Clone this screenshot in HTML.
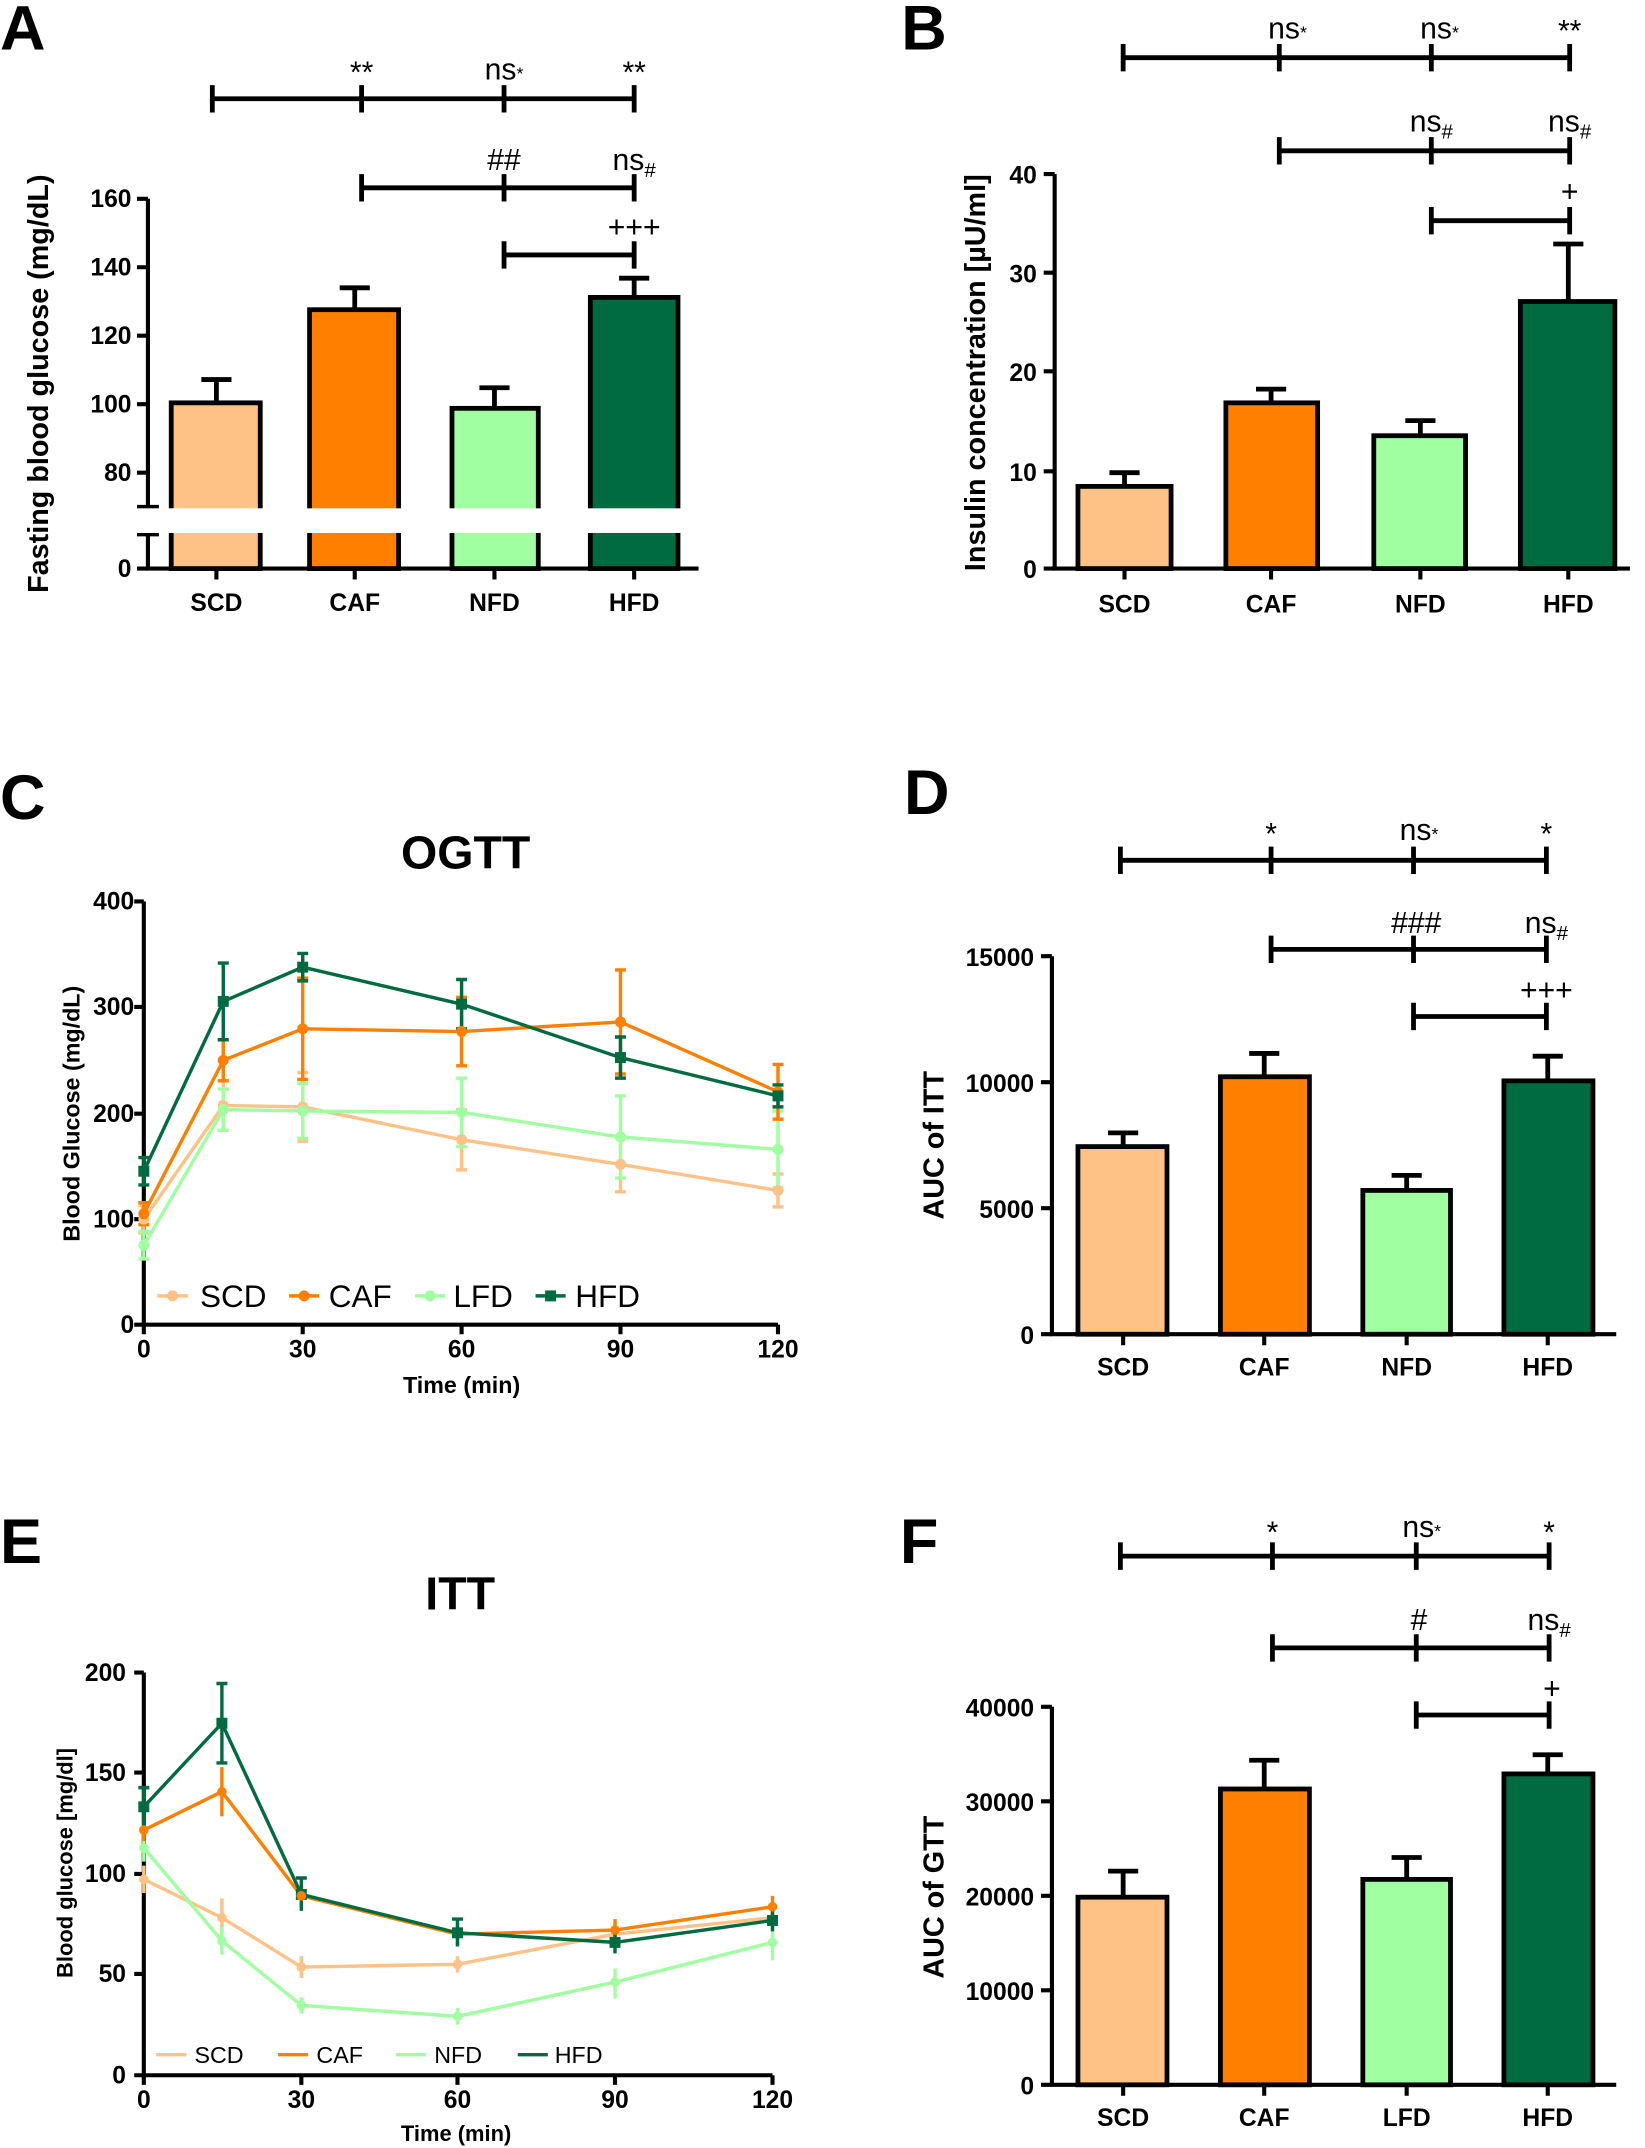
<!DOCTYPE html>
<html><head><meta charset="utf-8"><style>
html,body{margin:0;padding:0;background:#fff}
svg{display:block}
text{font-family:"Liberation Sans",sans-serif}
.t{font-size:18px;font-weight:bold}
.L{font-size:46px;font-weight:bold}
.s{font-size:22px}
.yl{font-size:21px;font-weight:bold}
.ax{stroke:#000;stroke-width:3;fill:none}
.bar{stroke:#000;stroke-width:3.5}
.cmp{stroke:#000;stroke-width:3.5;fill:none}
</style></head><body>
<svg width="1645" height="2148" viewBox="0 0 1201 1568" xmlns="http://www.w3.org/2000/svg">
<!-- Panel letters -->
<text class="L" x="0" y="36">A</text>
<text class="L" x="658" y="36">B</text>
<text class="L" x="0" y="598">C</text>
<text class="L" x="660" y="594">D</text>
<text class="L" x="0" y="1141">E</text>
<text class="L" x="657" y="1141">F</text>

<!-- ===== Panel A ===== -->
<g>
<path class="ax" d="M108 145V370M108 390V415H510"/>
<path class="ax" d="M100 145H108M100 195H108M100 245H108M100 295H108M100 345H108M100 415H108M100 370H116M100 390H116"/>
<g class="t" text-anchor="end"><text x="96" y="151">160</text><text x="96" y="201">140</text><text x="96" y="251">120</text><text x="96" y="301">100</text><text x="96" y="351">80</text><text x="96" y="421">0</text></g>
<path class="ax" d="M158 415v8M259 415v8M361 415v8M463 415v8"/>
<rect class="bar" x="125" y="294" width="65" height="121" fill="#FFC286"/>
<rect class="bar" x="226" y="226" width="65" height="189" fill="#FF8000"/>
<rect class="bar" x="330" y="298" width="63" height="117" fill="#A0FFA0"/>
<rect class="bar" x="431" y="217" width="64" height="198" fill="#006B40"/>
<rect x="100" y="371" width="420" height="18" fill="#fff"/>
<path class="cmp" d="M158 294V277M147 277H169M259 226V210M248 210H270M361 298V283M350 283H372M463 217V203M452 203H474"/>
<g class="t" text-anchor="middle"><text x="158" y="446">SCD</text><text x="259" y="446">CAF</text><text x="361" y="446">NFD</text><text x="463" y="446">HFD</text></g>
<text class="yl" transform="translate(35,280) rotate(-90)" text-anchor="middle">Fasting blood glucose (mg/dL)</text>
<path class="cmp" d="M155 72H463M155 62V82M264 62V82M368 62V82M463 62V82"/>
<path class="cmp" d="M264 137H463M264 127V147M368 127V147M463 127V147"/>
<path class="cmp" d="M368 186H463M368 176V196M463 176V196"/>
<g class="s" text-anchor="middle"><text x="264" y="60">**</text><text x="368" y="58">ns<tspan font-size="13">*</tspan></text><text x="463" y="60">**</text>
<text x="368" y="124">##</text><text x="463" y="124">ns<tspan font-size="15" dy="5">#</tspan></text><text x="463" y="173">+++</text></g>
</g>

<!-- ===== Panel B ===== -->
<g>
<path class="ax" d="M770 127V415H1190"/>
<path class="ax" d="M762 127H770M762 199H770M762 271H770M762 344H770M762 415H770"/>
<g class="t" text-anchor="end"><text x="757" y="134">40</text><text x="757" y="206">30</text><text x="757" y="278">20</text><text x="757" y="351">10</text><text x="757" y="422">0</text></g>
<path class="ax" d="M821 415v8M928 415v8M1037 415v8M1145 415v8"/>
<rect class="bar" x="787" y="355" width="68" height="60" fill="#FFC286"/>
<rect class="bar" x="895" y="294" width="67" height="121" fill="#FF8000"/>
<rect class="bar" x="1003" y="318" width="67" height="97" fill="#A0FFA0"/>
<rect class="bar" x="1110" y="220" width="69" height="195" fill="#006B40"/>
<path class="cmp" d="M821 355V345M810 345H832M928 294V284M917 284H939M1037 318V307M1026 307H1048M1145 220V178M1134 178H1156"/>
<g class="t" text-anchor="middle"><text x="821" y="447">SCD</text><text x="928" y="447">CAF</text><text x="1037" y="447">NFD</text><text x="1145" y="447">HFD</text></g>
<text class="yl" transform="translate(719,272) rotate(-90)" text-anchor="middle">Insulin concentration [µU/ml]</text>
<path class="cmp" d="M820 42H1146M820 32V52M934 32V52M1045 32V52M1146 32V52"/>
<path class="cmp" d="M934 110H1146M934 100V120M1045 100V120M1146 100V120"/>
<path class="cmp" d="M1045 161H1146M1045 151V171M1146 151V171"/>
<g class="s" text-anchor="middle"><text x="940" y="28">ns<tspan font-size="13">*</tspan></text><text x="1051" y="28">ns<tspan font-size="13">*</tspan></text><text x="1146" y="30">**</text>
<text x="1045" y="96">ns<tspan font-size="15" dy="5">#</tspan></text><text x="1146" y="96">ns<tspan font-size="15" dy="5">#</tspan></text><text x="1146" y="147">+</text></g>
</g>

<!-- ===== Panel C (OGTT) ===== -->
<g>
<text x="340" y="634" text-anchor="middle" font-size="34" font-weight="bold">OGTT</text>
<path class="ax" d="M105 658V967H568" stroke-width="2.5"/>
<path class="ax" stroke-width="2.5" d="M98 658H105M98 735H105M98 813H105M98 890H105M98 967H105M105 967v7M221 967v7M337 967v7M453 967v7M568 967v7"/>
<g class="t" font-size="16" text-anchor="end"><text x="98" y="664">400</text><text x="98" y="741">300</text><text x="98" y="819">200</text><text x="98" y="896">100</text><text x="98" y="973">0</text></g>
<g class="t" font-size="16" text-anchor="middle"><text x="105" y="991">0</text><text x="221" y="991">30</text><text x="337" y="991">60</text><text x="453" y="991">90</text><text x="568" y="991">120</text></g>
<text x="337" y="1017" text-anchor="middle" font-size="17" font-weight="bold">Time (min)</text>
<text transform="translate(58,813) rotate(-90)" text-anchor="middle" font-size="17" font-weight="bold">Blood Glucose (mg/dL)</text>
<!-- SCD -->
<g stroke="#FFC286" stroke-width="2.5" fill="none"><polyline points="105,890 163,807 221,808 337,832 453,850 568,869"/>
<path d="M105 880V900M163 789V825M221 783V833M337 810V854M453 830V870M568 857V881M101 880h8M101 900h8M159 789h8M159 825h8M217 783h8M217 833h8M333 810h8M333 854h8M449 830h8M449 870h8M564 857h8M564 881h8"/></g>
<!-- LFD -->
<g stroke="#A0FFA0" stroke-width="2.5" fill="none"><polyline points="105,909 163,810 221,811 337,812 453,830 568,839"/>
<path d="M105 899V919M163 795V825M221 791V831M337 787V837M453 800V860M568 811V867M101 899h8M101 919h8M159 795h8M159 825h8M217 791h8M217 831h8M333 787h8M333 837h8M449 800h8M449 860h8M564 811h8M564 867h8"/></g>
<!-- CAF -->
<g stroke="#FF8000" stroke-width="2.5" fill="none"><polyline points="105,886 163,774 221,751 337,753 453,746 568,797"/>
<path d="M105 878V894M163 759V789M221 714V788M337 728V778M453 708V784M568 777V817M101 878h8M101 894h8M159 759h8M159 789h8M217 714h8M217 788h8M333 728h8M333 778h8M449 708h8M449 784h8M564 777h8M564 817h8"/></g>
<!-- HFD -->
<g stroke="#006B40" stroke-width="2.5" fill="none"><polyline points="105,855 163,731 221,706 337,733 453,772 568,800"/>
<path d="M105 845V865M163 703V759M221 696V716M337 715V751M453 757V787M568 792V808M101 845h8M101 865h8M159 703h8M159 759h8M217 696h8M217 716h8M333 715h8M333 751h8M449 757h8M449 787h8M564 792h8M564 808h8"/></g>
<g fill="#FFC286"><circle cx="105" cy="890" r="4"/><circle cx="163" cy="807" r="4"/><circle cx="221" cy="808" r="4"/><circle cx="337" cy="832" r="4"/><circle cx="453" cy="850" r="4"/><circle cx="568" cy="869" r="4"/></g>
<g fill="#A0FFA0"><circle cx="105" cy="909" r="4"/><circle cx="163" cy="810" r="4"/><circle cx="221" cy="811" r="4"/><circle cx="337" cy="812" r="4"/><circle cx="453" cy="830" r="4"/><circle cx="568" cy="839" r="4"/></g>
<g fill="#FF8000"><circle cx="105" cy="886" r="4"/><circle cx="163" cy="774" r="4"/><circle cx="221" cy="751" r="4"/><circle cx="337" cy="753" r="4"/><circle cx="453" cy="746" r="4"/><circle cx="568" cy="797" r="4"/></g>
<g fill="#006B40"><rect x="101" y="851" width="8" height="8"/><rect x="159" y="727" width="8" height="8"/><rect x="217" y="702" width="8" height="8"/><rect x="333" y="729" width="8" height="8"/><rect x="449" y="768" width="8" height="8"/><rect x="564" y="796" width="8" height="8"/></g>
<!-- legend -->
<g stroke-width="2.5"><path d="M115 946h22" stroke="#FFC286"/><path d="M211 946h22" stroke="#FF8000"/><path d="M303 946h22" stroke="#A0FFA0"/><path d="M391 946h22" stroke="#006B40"/></g>
<circle cx="126" cy="946" r="4" fill="#FFC286"/><circle cx="222" cy="946" r="4" fill="#FF8000"/><circle cx="314" cy="946" r="4" fill="#A0FFA0"/><rect x="398" y="942" width="8" height="8" fill="#006B40"/>
<g font-size="23"><text x="146" y="954">SCD</text><text x="240" y="954">CAF</text><text x="331" y="954">LFD</text><text x="420" y="954">HFD</text></g>
</g>

<!-- ===== Panel D ===== -->
<g>
<path class="ax" d="M768 698V974H1180"/>
<path class="ax" d="M760 698H768M760 790H768M760 882H768M760 974H768"/>
<g class="t" text-anchor="end"><text x="755" y="705">15000</text><text x="755" y="797">10000</text><text x="755" y="889">5000</text><text x="755" y="981">0</text></g>
<path class="ax" d="M820 974v8M923 974v8M1027 974v8M1130 974v8"/>
<rect class="bar" x="787" y="837" width="65" height="137" fill="#FFC286"/>
<rect class="bar" x="891" y="786" width="65" height="188" fill="#FF8000"/>
<rect class="bar" x="995" y="869" width="64" height="105" fill="#A0FFA0"/>
<rect class="bar" x="1098" y="789" width="65" height="185" fill="#006B40"/>
<path class="cmp" d="M820 837V827M809 827H831M923 786V769M912 769H934M1027 869V858M1016 858H1038M1130 789V771M1119 771H1141"/>
<g class="t" text-anchor="middle"><text x="820" y="1004">SCD</text><text x="923" y="1004">CAF</text><text x="1027" y="1004">NFD</text><text x="1130" y="1004">HFD</text></g>
<text class="yl" transform="translate(689,836) rotate(-90)" text-anchor="middle">AUC of ITT</text>
<path class="cmp" d="M818 628H1129M818 618V638M928 618V638M1032 618V638M1129 618V638"/>
<path class="cmp" d="M928 693H1129M928 683V703M1032 683V703M1129 683V703"/>
<path class="cmp" d="M1032 742H1129M1032 732V752M1129 732V752"/>
<g class="s" text-anchor="middle"><text x="928" y="616">*</text><text x="1036" y="613">ns<tspan font-size="13">*</tspan></text><text x="1129" y="616">*</text>
<text x="1034" y="681">###</text><text x="1129" y="681">ns<tspan font-size="15" dy="5">#</tspan></text><text x="1129" y="730">+++</text></g>
</g>

<!-- ===== Panel E (ITT) ===== -->
<g>
<text x="336" y="1175" text-anchor="middle" font-size="34" font-weight="bold">ITT</text>
<path class="ax" stroke-width="2.5" d="M105 1221V1515H564"/>
<path class="ax" stroke-width="2.5" d="M98 1221H105M98 1294H105M98 1368H105M98 1441H105M98 1515H105M105 1515v7M220 1515v7M334 1515v7M449 1515v7M564 1515v7"/>
<g class="t" font-size="16" text-anchor="end"><text x="92" y="1227">200</text><text x="92" y="1300">150</text><text x="92" y="1374">100</text><text x="92" y="1447">50</text><text x="92" y="1521">0</text></g>
<g class="t" font-size="16" text-anchor="middle"><text x="105" y="1539">0</text><text x="220" y="1539">30</text><text x="334" y="1539">60</text><text x="449" y="1539">90</text><text x="564" y="1539">120</text></g>
<text x="333" y="1563" text-anchor="middle" font-size="16" font-weight="bold">Time (min)</text>
<text transform="translate(53,1360) rotate(-90)" text-anchor="middle" font-size="16" font-weight="bold">Blood glucose [mg/dl]</text>
<g stroke="#FFC286" stroke-width="2.5" fill="none"><polyline points="105,1372 162,1400 220,1436 334,1434 449,1412 564,1400"/>
<path d="M105 1362V1382M162 1386V1414M220 1428V1444M334 1428V1440M449 1404V1420M564 1392V1408"/></g>
<g stroke="#A0FFA0" stroke-width="2.5" fill="none"><polyline points="105,1349 162,1417 220,1464 334,1472 449,1447 564,1418"/>
<path d="M105 1339V1359M162 1407V1427M220 1458V1470M334 1466V1478M449 1437V1459M564 1405V1431"/></g>
<g stroke="#FF8000" stroke-width="2.5" fill="none"><polyline points="105,1336 162,1308 220,1384 334,1412 449,1409 564,1392"/>
<path d="M105 1328V1344M162 1290V1326M220 1376V1392M334 1404V1420M449 1401V1417M564 1384V1400"/></g>
<g stroke="#006B40" stroke-width="2.5" fill="none"><polyline points="105,1319 162,1258 220,1383 334,1411 449,1418 564,1402"/>
<path d="M105 1305V1333M162 1229V1287M220 1371V1395M334 1401V1421M449 1410V1426M564 1394V1410M101 1305h8M158 1229h8M158 1287h8M216 1371h8M330 1401h8"/></g>
<g fill="#006B40"><rect x="101" y="1315" width="8" height="8"/><rect x="158" y="1254" width="8" height="8"/><rect x="216" y="1379" width="8" height="8"/><rect x="330" y="1407" width="8" height="8"/><rect x="445" y="1414" width="8" height="8"/><rect x="560" y="1398" width="8" height="8"/></g>
<g fill="#FF8000"><circle cx="105" cy="1336" r="3.5"/><circle cx="162" cy="1308" r="3.5"/><circle cx="220" cy="1384" r="3.5"/><circle cx="449" cy="1409" r="3.5"/><circle cx="564" cy="1392" r="3.5"/></g>
<g fill="#A0FFA0"><circle cx="105" cy="1349" r="3.5"/><circle cx="162" cy="1417" r="3.5"/><circle cx="220" cy="1464" r="3.5"/><circle cx="334" cy="1472" r="3.5"/><circle cx="449" cy="1447" r="3.5"/><circle cx="564" cy="1418" r="3.5"/></g>
<g fill="#FFC286"><circle cx="105" cy="1372" r="3.5"/><circle cx="162" cy="1400" r="3.5"/><circle cx="220" cy="1436" r="3.5"/><circle cx="334" cy="1434" r="3.5"/></g>
<g stroke-width="2.5"><path d="M114 1500h22" stroke="#FFC286"/><path d="M203 1500h22" stroke="#FF8000"/><path d="M289 1500h22" stroke="#A0FFA0"/><path d="M378 1500h22" stroke="#006B40"/></g>
<g font-size="17"><text x="142" y="1506">SCD</text><text x="231" y="1506">CAF</text><text x="317" y="1506">NFD</text><text x="405" y="1506">HFD</text></g>
</g>

<!-- ===== Panel F ===== -->
<g>
<path class="ax" d="M768 1246V1522H1180"/>
<path class="ax" d="M760 1246H768M760 1315H768M760 1384H768M760 1453H768M760 1522H768"/>
<g class="t" text-anchor="end"><text x="755" y="1253">40000</text><text x="755" y="1322">30000</text><text x="755" y="1391">20000</text><text x="755" y="1460">10000</text><text x="755" y="1529">0</text></g>
<path class="ax" d="M820 1522v8M923 1522v8M1027 1522v8M1130 1522v8"/>
<rect class="bar" x="787" y="1385" width="65" height="137" fill="#FFC286"/>
<rect class="bar" x="891" y="1306" width="65" height="216" fill="#FF8000"/>
<rect class="bar" x="995" y="1372" width="64" height="150" fill="#A0FFA0"/>
<rect class="bar" x="1098" y="1295" width="65" height="227" fill="#006B40"/>
<path class="cmp" d="M820 1385V1366M809 1366H831M923 1306V1285M912 1285H934M1027 1372V1356M1016 1356H1038M1130 1295V1281M1119 1281H1141"/>
<g class="t" text-anchor="middle"><text x="820" y="1552">SCD</text><text x="923" y="1552">CAF</text><text x="1027" y="1552">LFD</text><text x="1130" y="1552">HFD</text></g>
<text class="yl" transform="translate(689,1385) rotate(-90)" text-anchor="middle">AUC of GTT</text>
<path class="cmp" d="M818 1136H1131M818 1126V1146M929 1126V1146M1034 1126V1146M1131 1126V1146"/>
<path class="cmp" d="M929 1203H1131M929 1193V1213M1034 1193V1213M1131 1193V1213"/>
<path class="cmp" d="M1034 1252H1131M1034 1242V1262M1131 1242V1262"/>
<g class="s" text-anchor="middle"><text x="929" y="1126">*</text><text x="1038" y="1122">ns<tspan font-size="13">*</tspan></text><text x="1131" y="1126">*</text>
<text x="1036" y="1190">#</text><text x="1131" y="1190">ns<tspan font-size="15" dy="5">#</tspan></text><text x="1133" y="1240">+</text></g>
</g>
</svg>
</body></html>
